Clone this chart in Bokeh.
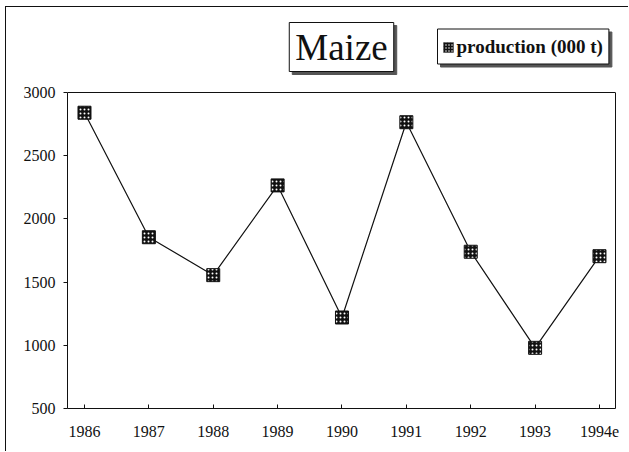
from bokeh.plotting import figure
from bokeh.models import Range1d, FixedTicker, Label, BoxAnnotation, LinearAxis, Span
from bokeh.embed import file_html
from bokeh.resources import INLINE

# ---- data ----
years = ["1986", "1987", "1988", "1989", "1990", "1991", "1992", "1993", "1994e"]
production = [2840, 1855, 1555, 2265, 1220, 2765, 1740, 980, 1705]
y_ticks = [500, 1000, 1500, 2000, 2500, 3000]
title_text = "Maize"
series_name = "production (000 t)"

x_idx = list(range(len(years)))

# ---- layout (screen pixels of the reference page) ----
MX, MY = 5, 6            # outer frame lines (CSS border) on the page
OX, OY = MX + 1, MY + 1  # where the canvas starts on the page
W, H = 623, 445
FR_L, FR_R, FR_B = 67, 615, 408   # plot box edges on the page
BOX_T = 92                         # top of the plot box (y = 3000)
Y_LO, Y_HI = 500, 3000
X0, X1 = -0.264, 8.249
PX_PER_Y = (FR_B - BOX_T) / (Y_HI - Y_LO)
Y_TOP = Y_LO + (FR_B - OY) / PX_PER_Y   # frame reaches the canvas top
SHADOW = 3


def sx2d(sx):
    return X0 + (sx - FR_L) / (FR_R - FR_L) * (X1 - X0)


def sy2d(sy):
    return Y_LO + (FR_B - sy) / PX_PER_Y


p = figure(width=W, height=H, output_backend="svg", toolbar_location=None,
           x_range=Range1d(X0, X1), y_range=Range1d(Y_LO, Y_TOP),
           min_border_left=FR_L - OX, min_border_right=OX + W - FR_R,
           min_border_top=0, min_border_bottom=OY + H - FR_B,
           background_fill_color="white", border_fill_color="white")
p.styles = {"margin-left": f"{MX}px", "margin-top": f"{MY}px",
            "border-left": "1px solid #111", "border-top": "1px solid #111"}

p.xgrid.visible = False
p.ygrid.visible = False
p.outline_line_color = None

serif = "Liberation Serif"
ink = "#111"
shade = "#555"

p.xaxis.ticker = FixedTicker(ticks=x_idx)
p.xaxis.major_label_overrides = {i: y for i, y in enumerate(years)}
p.xaxis.major_tick_in = 4
p.xaxis.major_tick_out = 0
p.xaxis.minor_tick_line_color = None
p.xaxis.major_label_standoff = 17
p.xaxis.major_label_text_font = serif
p.xaxis.major_label_text_font_size = "16px"
p.xaxis.major_label_text_color = ink

p.yaxis.ticker = FixedTicker(ticks=y_ticks)
p.yaxis.bounds = (Y_LO, Y_HI)
p.yaxis.major_tick_in = 0
p.yaxis.major_tick_out = 4
p.yaxis.minor_tick_line_color = None
p.yaxis.major_label_standoff = 8
p.yaxis.major_label_text_font = serif
p.yaxis.major_label_text_font_size = "16px"
p.yaxis.major_label_text_color = ink

for ax in (p.xaxis, p.yaxis):
    ax.axis_line_color = ink
    ax.major_tick_line_color = ink

# right edge of the plot box
p.add_layout(LinearAxis(ticker=FixedTicker(ticks=[]), bounds=(Y_LO, Y_HI),
                        axis_line_color=ink, major_tick_line_color=None,
                        minor_tick_line_color=None), "right")
# top edge of the plot box
p.add_layout(Span(location=Y_HI, dimension="width", line_color=ink, line_width=1))

p.line(x_idx, production, line_color=ink, line_width=1.2)
p.scatter(x_idx, production, marker="square", size=13,
          fill_color=ink, line_color=ink,
          hatch_pattern="dot", hatch_color="white", hatch_scale=4, hatch_weight=0.9)


def boxed_label(sx, sy, text, shadow, **kw):
    d = SHADOW if shadow else 0
    return Label(x=sx2d(sx + d), y=sy2d(sy + d), text=text,
                 text_color=shade if shadow else ink,
                 background_fill_color=shade if shadow else "white",
                 border_line_color=shade if shadow else ink,
                 border_line_width=1, text_font=serif, **kw)


# ---- title box with shadow ----
t_cx, t_cy = 341, 46.5
for shadow in (True, False):
    p.add_layout(boxed_label(t_cx, t_cy, title_text, shadow,
                             anchor="center", text_align="center", text_baseline="middle",
                             text_font_size="37px",
                             padding=dict(left=6, right=6, top=4, bottom=4)))

# ---- legend box with shadow ----
l_left, l_cy = 437, 46
for shadow in (True, False):
    p.add_layout(boxed_label(l_left, l_cy, series_name, shadow,
                             anchor="center_left", text_align="left", text_baseline="middle",
                             text_font_style="bold", text_font_size="19px",
                             padding=dict(left=19, right=6, top=7, bottom=7)))

p.add_layout(BoxAnnotation(left=sx2d(443), right=sx2d(453), top=sy2d(42), bottom=sy2d(52),
                           fill_color=ink, fill_alpha=1, line_color=ink,
                           hatch_pattern="dot", hatch_color="white", hatch_scale=3,
                           hatch_weight=0.9, level="overlay"))

open("out.html", "w").write(file_html(p, INLINE))
